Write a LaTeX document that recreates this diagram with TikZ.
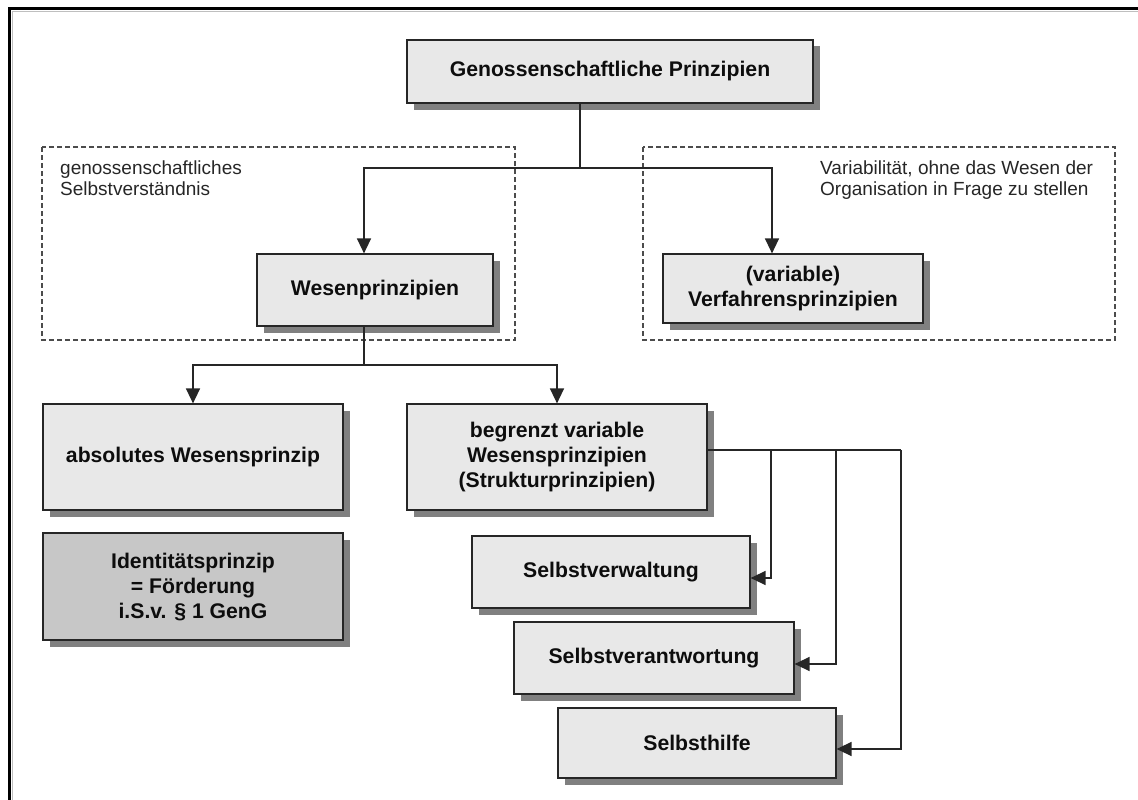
\documentclass[tikz,border=0pt]{standalone}
\usepackage{fontspec}
\setmainfont{Liberation Sans}
\usetikzlibrary{arrows.meta,shadows}

\tikzset{
  box/.style={draw=black!85, line width=1.2pt, fill=black!9, align=center, inner sep=2pt,
    font=\fontsize{21.2}{25}\selectfont\bfseries, text=black!95,
    drop shadow={shadow xshift=6.5pt, shadow yshift=-6.5pt, fill=black!50, opacity=1}},
  darkbox/.style={box, fill=black!22},
  link/.style={draw=black!85, line width=1.4pt},
  arr/.style={link, -{Triangle[length=15pt,width=14pt]}},
  note/.style={align=left, inner sep=0pt, anchor=north west, font=\fontsize{19}{21}\selectfont, text=black!85},
  group/.style={draw=black!70, line width=1.2pt, dash pattern=on 5pt off 3pt}
}

\begin{document}
\begin{tikzpicture}[x=1pt, y=-1pt]
        \useasboundingbox (0,0) rectangle (1138,800);

        % Frame
        \draw[line width=3pt] (9,800) -- (9,9) -- (1138,9);
        \draw[black!25, line width=1pt] (12,800) -- (12,12) -- (1138,12);

        % Groups
        \draw[group] (42,147) rectangle (515,340);
        \draw[group] (643,147) rectangle (1115,340);
        \node[note] (selbst) at (60,161) {genossenschaftliches\\Selbstverständnis};
        \node[note] (vari) at (820,161) {Variabilität, ohne das Wesen der\\Organisation in Frage zu stellen};

        % Boxes
        \node[box, minimum width=406pt, minimum height=63pt] (top) at (610,71.5) {Genossenschaftliche Prinzipien};
        \node[box, minimum width=236pt, minimum height=72pt] (wesen) at (375,290) {Wesenprinzipien};
        \node[box, minimum width=260pt, minimum height=69pt] (verf) at (793,288.5) {(variable)\\Verfahrensprinzipien};
        \node[box, minimum width=300pt, minimum height=106pt] (abs) at (193,457) {absolutes Wesensprinzip};
        \node[darkbox, minimum width=300pt, minimum height=107pt] (ident) at (193,586.5) {Identitätsprinzip\\= Förderung\\i.S.v. § 1 GenG};
        \node[box, minimum width=300pt, minimum height=106pt] (begr) at (557,457) {begrenzt variable\\Wesensprinzipien\\(Strukturprinzipien)};
        \node[box, minimum width=278pt, minimum height=72pt] (sv) at (611,572) {Selbstverwaltung};
        \node[box, minimum width=280pt, minimum height=72pt] (sa) at (654,658) {Selbstverantwortung};
        \node[box, minimum width=278pt, minimum height=70pt] (sh) at (697,743) {Selbsthilfe};

        % Top split
        \coordinate (split) at (580,168);
        \draw[link] (split |- top.south) -- (split);
        \draw[arr] (split) -| ([xshift=-11pt]wesen.north);
        \draw[arr] (split) -| ([xshift=-21pt]verf.north);

        % Wesen split
        \coordinate (split2) at (364,365);
        \draw[link] ([xshift=-11pt]wesen.south) -- (split2);
        \draw[arr] (split2) -| (abs.north);
        \draw[arr] (split2) -| (begr.north);

        % Structure principles
        \coordinate (branch) at (901,450);
        \draw[link] ([yshift=7pt]begr.east) -- (branch);
        \foreach \n/\x in {sv/771, sa/836, sh/901} {
            \coordinate (b\n) at (\x,450);
            \draw[arr] (b\n) |- ([yshift=-6pt]\n.east);
        }

    \end{tikzpicture}
\end{document}
